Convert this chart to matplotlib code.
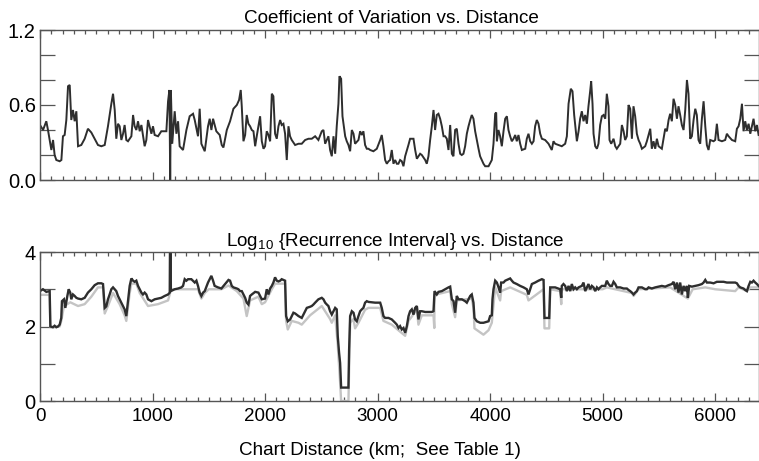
import matplotlib
matplotlib.use('Agg')
import matplotlib.pyplot as plt
from matplotlib.ticker import MultipleLocator

plt.rcParams['font.family'] = ['Liberation Sans', 'DejaVu Sans']
plt.rcParams['mathtext.default'] = 'regular'

# ---------------- Data: Coefficient of Variation vs. distance (km) ----------------
cv_km = [
    0, 27, 56, 71, 101, 116, 130, 145, 175, 190,
    204, 219, 234, 249, 264, 278, 293, 308, 323, 338,
    367, 397, 426, 456, 486, 515, 545, 575, 604, 634,
    649, 664, 678, 693, 708, 723, 738, 752, 767, 782,
    812, 827, 841, 856, 871, 886, 901, 930, 945, 960,
    990, 1004, 1019, 1049, 1078, 1123, 1138, 1150, 1157, 1163,
    1175, 1197, 1212, 1227, 1241, 1271, 1301, 1330, 1360, 1375,
    1404, 1419, 1434, 1464, 1493, 1508, 1523, 1538, 1567, 1597,
    1615, 1630, 1660, 1689, 1719, 1749, 1769, 1784, 1793, 1808,
    1823, 1837, 1852, 1867, 1882, 1897, 1912, 1926, 1941, 1956,
    1971, 1986, 2000, 2015, 2030, 2045, 2060, 2074, 2089, 2104,
    2119, 2134, 2148, 2163, 2178, 2193, 2208, 2222, 2237, 2267,
    2297, 2326, 2356, 2386, 2415, 2445, 2474, 2504, 2519, 2534,
    2563, 2578, 2593, 2608, 2623, 2637, 2652, 2661, 2676, 2688,
    2700, 2712, 2726, 2741, 2756, 2771, 2786, 2800, 2830, 2845,
    2860, 2874, 2889, 2904, 2919, 2934, 2963, 2993, 3023, 3037,
    3052, 3067, 3082, 3097, 3111, 3126, 3141, 3156, 3171, 3185,
    3200, 3215, 3230, 3245, 3274, 3289, 3319, 3334, 3349, 3378,
    3393, 3423, 3437, 3452, 3467, 3482, 3497, 3511, 3526, 3541,
    3556, 3571, 3586, 3600, 3615, 3630, 3645, 3660, 3674, 3689,
    3704, 3719, 3734, 3748, 3763, 3778, 3793, 3808, 3823, 3837,
    3852, 3867, 3882, 3897, 3911, 3926, 3941, 3956, 3986, 4015,
    4030, 4045, 4054, 4060, 4074, 4089, 4104, 4119, 4134, 4149,
    4163, 4178, 4193, 4208, 4223, 4237, 4252, 4267, 4282, 4312,
    4326, 4341, 4356, 4371, 4386, 4400, 4415, 4430, 4445, 4460,
    4489, 4519, 4548, 4563, 4578, 4608, 4637, 4652, 4667, 4682,
    4697, 4717, 4732, 4747, 4771, 4786, 4800, 4815, 4830, 4845,
    4860, 4874, 4889, 4898, 4910, 4919, 4934, 4949, 4963, 4978,
    4993, 5008, 5023, 5037, 5052, 5061, 5076, 5097, 5112, 5126,
    5141, 5156, 5171, 5186, 5200, 5215, 5230, 5245, 5260, 5274,
    5289, 5304, 5319, 5334, 5349, 5378, 5393, 5408, 5423, 5437,
    5452, 5467, 5482, 5497, 5526, 5541, 5556, 5571, 5586, 5600,
    5615, 5630, 5645, 5660, 5674, 5689, 5704, 5719, 5734, 5749,
    5763, 5778, 5793, 5808, 5823, 5837, 5852, 5867, 5882, 5897,
    5912, 5926, 5941, 5956, 5986, 6000, 6015, 6030, 6060, 6089,
    6104, 6119, 6149, 6178, 6193, 6208, 6223, 6238, 6252, 6267,
    6282, 6297, 6312, 6326, 6341, 6356, 6371, 6386,
]
cv_val = [
    0.44, 0.40, 0.47, 0.40, 0.24, 0.32, 0.20, 0.16, 0.15, 0.16,
    0.35, 0.36, 0.48, 0.75, 0.76, 0.48, 0.56, 0.47, 0.55, 0.27,
    0.28, 0.33, 0.41, 0.38, 0.33, 0.28, 0.27, 0.28, 0.43, 0.61,
    0.69, 0.56, 0.33, 0.45, 0.43, 0.32, 0.37, 0.44, 0.32, 0.31,
    0.35, 0.52, 0.43, 0.40, 0.47, 0.39, 0.44, 0.27, 0.32, 0.48,
    0.37, 0.43, 0.36, 0.35, 0.39, 0.39, 0.63, 0.72, 0.00, 0.72,
    0.29, 0.55, 0.37, 0.47, 0.27, 0.24, 0.40, 0.51, 0.53, 0.48,
    0.35, 0.57, 0.29, 0.23, 0.43, 0.49, 0.40, 0.49, 0.39, 0.36,
    0.28, 0.26, 0.40, 0.47, 0.57, 0.60, 0.64, 0.72, 0.59, 0.31,
    0.36, 0.52, 0.45, 0.43, 0.40, 0.39, 0.27, 0.35, 0.43, 0.51,
    0.31, 0.25, 0.27, 0.39, 0.36, 0.31, 0.69, 0.67, 0.37, 0.33,
    0.43, 0.48, 0.44, 0.45, 0.37, 0.16, 0.43, 0.35, 0.32, 0.28,
    0.29, 0.29, 0.32, 0.33, 0.33, 0.35, 0.32, 0.39, 0.40, 0.29,
    0.35, 0.24, 0.19, 0.35, 0.21, 0.43, 0.61, 0.83, 0.81, 0.51,
    0.43, 0.35, 0.31, 0.28, 0.23, 0.40, 0.37, 0.29, 0.32, 0.39,
    0.36, 0.39, 0.28, 0.25, 0.25, 0.24, 0.23, 0.25, 0.32, 0.36,
    0.27, 0.16, 0.13, 0.15, 0.16, 0.24, 0.13, 0.16, 0.13, 0.13,
    0.16, 0.15, 0.11, 0.19, 0.28, 0.33, 0.33, 0.24, 0.17, 0.21,
    0.20, 0.16, 0.13, 0.19, 0.32, 0.43, 0.56, 0.40, 0.52, 0.53,
    0.49, 0.43, 0.35, 0.35, 0.33, 0.24, 0.44, 0.21, 0.19, 0.40,
    0.41, 0.29, 0.21, 0.20, 0.21, 0.27, 0.37, 0.43, 0.48, 0.52,
    0.49, 0.39, 0.32, 0.25, 0.19, 0.16, 0.13, 0.11, 0.11, 0.16,
    0.29, 0.53, 0.54, 0.31, 0.40, 0.35, 0.27, 0.39, 0.49, 0.51,
    0.40, 0.35, 0.31, 0.33, 0.36, 0.31, 0.36, 0.29, 0.24, 0.25,
    0.33, 0.37, 0.31, 0.29, 0.31, 0.43, 0.48, 0.45, 0.37, 0.33,
    0.32, 0.29, 0.24, 0.31, 0.29, 0.28, 0.27, 0.28, 0.29, 0.35,
    0.61, 0.73, 0.71, 0.52, 0.31, 0.39, 0.49, 0.55, 0.47, 0.52,
    0.45, 0.59, 0.71, 0.79, 0.61, 0.37, 0.27, 0.25, 0.29, 0.44,
    0.51, 0.52, 0.49, 0.69, 0.59, 0.32, 0.29, 0.33, 0.27, 0.25,
    0.27, 0.29, 0.44, 0.39, 0.32, 0.35, 0.60, 0.57, 0.33, 0.59,
    0.51, 0.37, 0.32, 0.29, 0.25, 0.27, 0.31, 0.36, 0.41, 0.25,
    0.31, 0.25, 0.33, 0.27, 0.25, 0.33, 0.41, 0.39, 0.48, 0.53,
    0.47, 0.65, 0.60, 0.49, 0.59, 0.52, 0.44, 0.40, 0.56, 0.80,
    0.69, 0.33, 0.35, 0.48, 0.57, 0.52, 0.32, 0.29, 0.49, 0.63,
    0.43, 0.28, 0.24, 0.32, 0.31, 0.32, 0.45, 0.32, 0.31, 0.32,
    0.37, 0.35, 0.32, 0.31, 0.41, 0.43, 0.49, 0.61, 0.39, 0.47,
    0.40, 0.45, 0.37, 0.43, 0.49, 0.39, 0.44, 0.36,
]

# ---------------- Data: log10 recurrence interval (dark curve) ----------------
ri_km = [
    0, 26, 56, 86, 92, 115, 130, 145, 160, 175,
    189, 195, 213, 225, 243, 255, 269, 278, 293, 308,
    323, 338, 367, 397, 426, 456, 486, 515, 545, 560,
    575, 589, 604, 619, 634, 649, 664, 678, 693, 708,
    723, 738, 752, 767, 782, 797, 812, 827, 841, 856,
    871, 886, 901, 915, 930, 945, 960, 990, 1019, 1049,
    1078, 1108, 1138, 1153, 1155, 1161, 1163, 1197, 1227, 1256,
    1271, 1286, 1301, 1316, 1345, 1375, 1390, 1404, 1419, 1434,
    1449, 1464, 1493, 1508, 1523, 1538, 1552, 1582, 1612, 1645,
    1675, 1689, 1704, 1719, 1749, 1763, 1778, 1793, 1808, 1823,
    1837, 1852, 1867, 1882, 1912, 1941, 1956, 1971, 2000, 2015,
    2030, 2045, 2060, 2074, 2089, 2104, 2119, 2134, 2148, 2178,
    2187, 2202, 2223, 2237, 2252, 2267, 2297, 2326, 2341, 2356,
    2371, 2400, 2415, 2430, 2445, 2474, 2504, 2519, 2534, 2549,
    2563, 2578, 2593, 2608, 2623, 2637, 2646, 2658, 2667, 2676,
    2741, 2747, 2756, 2771, 2786, 2800, 2815, 2830, 2845, 2860,
    2874, 2889, 2904, 2919, 2978, 3023, 3037, 3052, 3067, 3097,
    3126, 3156, 3171, 3186, 3200, 3215, 3230, 3245, 3260, 3275,
    3289, 3304, 3319, 3334, 3349, 3363, 3378, 3393, 3423, 3452,
    3482, 3497, 3506, 3526, 3541, 3571, 3600, 3630, 3645, 3660,
    3675, 3689, 3704, 3719, 3749, 3778, 3793, 3808, 3823, 3837,
    3852, 3861, 3882, 3912, 3941, 3986, 4000, 4015, 4021, 4030,
    4045, 4060, 4075, 4089, 4098, 4119, 4134, 4163, 4178, 4193,
    4208, 4237, 4267, 4297, 4326, 4341, 4356, 4371, 4400, 4430,
    4460, 4475, 4483, 4525, 4534, 4578, 4623, 4632, 4637, 4652,
    4667, 4682, 4697, 4712, 4726, 4741, 4756, 4771, 4786, 4815,
    4830, 4845, 4860, 4874, 4889, 4904, 4919, 4934, 4949, 4963,
    4978, 4993, 5023, 5037, 5052, 5067, 5082, 5097, 5112, 5126,
    5156, 5186, 5215, 5230, 5245, 5260, 5275, 5289, 5304, 5319,
    5349, 5378, 5393, 5408, 5437, 5467, 5497, 5526, 5556, 5586,
    5615, 5630, 5645, 5660, 5674, 5689, 5704, 5719, 5734, 5749,
    5757, 5769, 5793, 5823, 5852, 5882, 5897, 5912, 5926, 5956,
    5986, 6015, 6045, 6075, 6104, 6134, 6178, 6193, 6208, 6223,
    6252, 6267, 6282, 6297, 6312, 6326, 6341, 6356, 6371, 6386,
]
ri_val = [
    2.95, 3.00, 2.93, 2.95, 2.00, 1.98, 2.02, 1.98, 2.00, 2.05,
    2.23, 2.68, 2.73, 2.50, 2.82, 3.00, 2.91, 2.73, 2.86, 2.82,
    2.77, 2.75, 2.73, 2.77, 2.91, 3.00, 3.11, 3.16, 3.16, 3.14,
    2.50, 2.54, 2.73, 2.86, 3.00, 3.05, 3.00, 2.95, 2.82, 2.73,
    2.64, 2.55, 2.46, 2.28, 2.68, 3.09, 3.29, 3.23, 3.20, 3.23,
    3.09, 3.00, 2.91, 2.86, 2.91, 2.86, 2.73, 2.68, 2.73, 2.75,
    2.77, 2.82, 2.86, 2.91, 4.00, 4.00, 2.95, 3.00, 3.02, 3.05,
    3.09, 3.27, 3.23, 3.27, 3.27, 3.18, 3.23, 3.09, 2.91, 2.82,
    2.91, 2.95, 3.18, 3.27, 3.36, 3.23, 3.09, 3.05, 3.02, 3.14,
    3.25, 3.23, 3.09, 3.05, 3.02, 3.00, 2.95, 2.95, 2.86, 2.77,
    2.64, 2.59, 2.82, 2.86, 2.93, 2.91, 2.82, 2.73, 2.75, 3.00,
    2.86, 3.02, 3.09, 3.18, 3.32, 3.23, 3.21, 3.23, 3.27, 3.23,
    2.28, 2.14, 2.19, 2.28, 2.37, 2.35, 2.28, 2.23, 2.32, 2.41,
    2.50, 2.53, 2.55, 2.59, 2.64, 2.73, 2.77, 2.73, 2.64, 2.59,
    2.55, 2.41, 2.32, 2.41, 2.50, 2.46, 1.74, 1.29, 1.02, 0.36,
    0.36, 1.38, 2.28, 2.41, 2.37, 2.19, 2.14, 2.28, 2.41, 2.46,
    2.50, 2.64, 2.68, 2.66, 2.64, 2.64, 2.50, 2.28, 2.23, 2.23,
    2.19, 2.10, 2.05, 1.96, 2.01, 1.92, 1.96, 1.83, 2.01, 2.28,
    2.41, 2.46, 2.32, 2.50, 2.55, 2.19, 2.41, 2.41, 2.39, 2.39,
    2.39, 2.41, 2.95, 2.86, 2.93, 2.95, 3.00, 3.05, 3.07, 2.73,
    2.68, 2.37, 2.82, 2.73, 2.73, 2.68, 2.64, 2.73, 2.82, 2.86,
    2.64, 2.23, 2.14, 2.10, 2.10, 2.14, 2.28, 2.30, 2.73, 3.00,
    3.23, 3.18, 3.05, 2.91, 3.18, 3.18, 3.23, 3.27, 3.29, 3.23,
    3.18, 3.14, 3.09, 3.05, 3.00, 2.86, 3.00, 3.14, 3.18, 3.23,
    3.27, 3.25, 2.23, 2.23, 3.05, 3.05, 3.00, 2.77, 3.09, 3.14,
    3.09, 2.95, 3.09, 2.95, 3.14, 3.00, 3.05, 3.00, 3.05, 3.09,
    3.18, 2.95, 3.05, 3.14, 3.00, 3.09, 3.05, 2.95, 3.05, 3.00,
    3.05, 3.09, 3.09, 3.23, 3.14, 3.09, 3.09, 3.20, 3.14, 3.05,
    3.05, 3.02, 3.02, 2.98, 2.95, 2.91, 2.86, 2.91, 2.95, 3.05,
    3.05, 3.00, 3.00, 3.05, 3.02, 3.05, 3.07, 3.09, 3.07, 3.11,
    3.14, 3.20, 3.00, 3.18, 2.91, 3.18, 2.86, 3.09, 2.95, 3.09,
    2.77, 3.09, 3.07, 3.09, 3.11, 3.14, 3.18, 3.25, 3.18, 3.18,
    3.16, 3.20, 3.20, 3.20, 3.18, 3.18, 3.18, 3.16, 3.09, 3.05,
    3.02, 2.98, 2.95, 3.09, 3.20, 3.18, 3.23, 3.18, 3.14, 3.09,
]

# ---------------- Data: log10 recurrence interval (light curve) ----------------
ri_lo_km = [
    0, 86, 92, 175, 189, 213, 243, 269, 338, 397,
    456, 515, 560, 575, 604, 649, 708, 752, 767, 797,
    812, 856, 886, 960, 1049, 1138, 1165, 1271, 1404, 1434,
    1464, 1500, 1612, 1675, 1749, 1808, 1837, 1867, 1941, 1971,
    2000, 2060, 2089, 2178, 2187, 2202, 2237, 2297, 2326, 2400,
    2504, 2578, 2593, 2623, 2646, 2667, 2676, 2741, 2756, 2786,
    2800, 2830, 2889, 2919, 3023, 3052, 3126, 3185, 3245, 3275,
    3349, 3363, 3393, 3497, 3504, 3506, 3645, 3660, 3689, 3704,
    3837, 3852, 3861, 3941, 3986, 4015, 4045, 4089, 4098, 4178,
    4326, 4341, 4475, 4483, 4525, 4534, 4623, 4632, 4637, 4800,
    5000, 5037, 5260, 5275, 5319, 5600, 5757, 5800, 5912, 6000,
    6178, 6208, 6282, 6312, 6386,
]
ri_lo_val = [
    2.85, 2.85, 1.98, 2.00, 2.15, 2.55, 2.60, 2.65, 2.55, 2.60,
    2.80, 3.05, 3.05, 2.35, 2.55, 2.90, 2.60, 2.30, 2.15, 2.90,
    3.15, 3.15, 2.90, 2.55, 2.60, 2.70, 3.00, 3.00, 3.00, 2.75,
    2.90, 3.00, 3.00, 3.10, 2.95, 2.75, 2.28, 2.70, 2.80, 2.60,
    2.65, 3.00, 3.15, 3.15, 2.15, 1.92, 2.15, 2.10, 2.05, 2.30,
    2.55, 2.20, 2.10, 2.30, 1.50, 0.50, 0.00, 0.00, 2.10, 2.20,
    1.95, 2.10, 2.45, 2.50, 2.50, 2.15, 2.05, 1.90, 1.75, 2.15,
    2.45, 2.05, 2.30, 2.30, 1.96, 2.85, 2.95, 2.60, 2.25, 2.70,
    2.75, 2.50, 1.95, 1.78, 1.90, 2.10, 3.05, 2.70, 2.95, 3.05,
    2.85, 2.70, 3.00, 1.95, 1.95, 3.00, 2.95, 2.60, 3.00, 3.00,
    3.00, 3.05, 2.90, 2.82, 3.00, 3.05, 2.75, 3.00, 3.05, 3.00,
    2.95, 3.05, 2.95, 3.05, 3.05,
]

title_top = "Coefficient of Variation vs. Distance"
title_bottom = "Log$_{10}$ {Recurrence Interval} vs. Distance"
x_label = "Chart Distance (km;  See Table 1)"
cv_ticks = [0.0, 0.2, 0.4, 0.6, 0.8, 1.0, 1.2]
cv_ticklabels = ["0.0", "", "", "0.6", "", "", "1.2"]
ri_ticks = [0, 1, 2, 3, 4]
ri_ticklabels = ["0", "", "2", "", "4"]
x_ticks = [0, 1000, 2000, 3000, 4000, 5000, 6000]

# ---------------- Figure ----------------
W, H = 759, 461
fig = plt.figure(figsize=(W / 100, H / 100), dpi=100)
fig.patch.set_facecolor('white')
ax1 = fig.add_axes([40 / W, 1 - 180 / H, 718.5 / W, 150 / H])
ax2 = fig.add_axes([40 / W, 1 - 401 / H, 718.5 / W, 149 / H])

spine_col = '#555555'
line_col = '#2e2e2e'

ax1.plot(cv_km, cv_val, color=line_col, lw=1.4, solid_joinstyle='miter')
ax2.plot(ri_lo_km, ri_lo_val, color='#c4c4c4', lw=1.7)
ax2.plot(ri_km, ri_val, color=line_col, lw=1.7, solid_joinstyle='miter')

for ax in (ax1, ax2):
    ax.set_xlim(0, 6385)
    ax.set_xticks(x_ticks)
    ax.xaxis.set_minor_locator(MultipleLocator(100))
    ax.tick_params(which='both', direction='in', top=True, right=True,
                   color=spine_col, width=0.9)
    ax.tick_params(axis='x', which='major', length=6, pad=5, labelsize=13.5)
    ax.tick_params(axis='x', which='minor', length=3)
    ax.tick_params(axis='y', which='major', length=11, pad=3, labelsize=14.5)
    for s in ax.spines.values():
        s.set_color(spine_col)
        s.set_linewidth(1.0)

ax1.set_ylim(0, 1.2)
ax1.set_yticks(cv_ticks)
ax1.set_yticklabels(cv_ticklabels)
ax1.tick_params(axis='x', labelbottom=False)
ax1.set_title(title_top, fontsize=13.6, pad=5, x=0.4885)

ax2.set_ylim(0, 4)
ax2.set_yticks(ri_ticks)
ax2.set_yticklabels(ri_ticklabels)
ax2.set_xticklabels([str(v) for v in x_ticks])
ax2.set_title(title_bottom, fontsize=13.6, pad=2, x=0.494)
ax2.set_xlabel(x_label, fontsize=13.6)
ax2.xaxis.set_label_coords(0.473, -0.275)

fig.savefig('out.png', dpi=100, facecolor='white')
